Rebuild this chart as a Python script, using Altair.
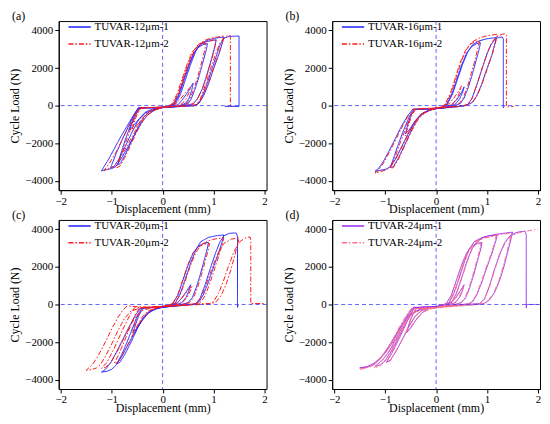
import altair as alt
import pandas as pd

FONT = "Liberation Serif"

# ---------------- data ----------------
A1 = [(0,-90),
(0.15,-60),(0.3,50),(0.4,350),(0.5,750),(0.6,1200),(0.57,800),(0.52,400),(0.45,120),(0.3,-40),(0.1,-90),
(-0.2,-110),(-0.45,-130),(-0.52,-450),(-0.6,-950),(-0.65,-1300),(-0.58,-1100),(-0.46,-700),(-0.34,-350),(-0.2,-180),(0,-100),
(0.1,-60),(0.2,40),(0.3,500),(0.4,1300),(0.5,2100),(0.6,2750),(0.7,3100),(0.8,3250),(0.88,3300),(0.86,3000),(0.8,2400),(0.72,1600),(0.64,900),(0.56,350),(0.5,100),(0.3,-40),(0,-90),
(-0.2,-110),(-0.46,-120),(-0.55,-500),(-0.65,-1200),(-0.75,-1950),(-0.83,-2650),(-0.88,-3150),(-0.83,-3080),(-0.74,-2650),(-0.62,-1950),(-0.5,-1250),(-0.38,-650),(-0.26,-330),(-0.14,-200),(0,-100),
(0.1,-60),(0.22,50),(0.32,550),(0.42,1350),(0.52,2150),(0.62,2800),(0.72,3200),(0.85,3400),(1.05,3500),(1.03,3200),(0.96,2500),(0.87,1650),(0.78,900),(0.68,350),(0.6,100),(0.4,-40),(0,-90),
(-0.2,-110),(-0.47,-120),(-0.57,-520),(-0.68,-1150),(-0.8,-1850),(-0.92,-2600),(-1.02,-3300),(-0.95,-3230),(-0.86,-2850),(-0.73,-2150),(-0.6,-1400),(-0.47,-750),(-0.33,-380),(-0.18,-220),(0,-100),
(0.1,-60),(0.25,80),(0.35,600),(0.45,1400),(0.55,2200),(0.65,2900),(0.75,3300),(0.9,3500),(1.05,3600),(1.2,3650),(1.18,3400),(1.1,2700),(1.0,1950),(0.9,1150),(0.8,500),(0.72,150),(0.65,30),(0.4,-40),(0.1,-90),
(-0.2,-110),(-0.48,-120),(-0.58,-550),(-0.7,-1100),(-0.82,-1650),(-0.94,-2250),(-1.06,-2850),(-1.15,-3250),(-1.2,-3480),(-1.12,-3420),(-1.0,-3350),(-0.92,-3250),(-0.82,-2850),(-0.68,-2200),(-0.54,-1500),(-0.4,-850),(-0.28,-450),(-0.16,-250),(0,-100),
(0.3,-40),(0.6,-20),(0.68,40),(0.75,300),(0.85,1000),(0.95,1800),(1.05,2600),(1.12,3200),(1.2,3580),(1.3,3680),(1.45,3700),(1.5,3700),(1.5,-40),(1.22,-40)]

A2 = [(0,-80),
(0.15,-40),(0.25,80),(0.35,350),(0.45,700),(0.55,1000),(0.52,700),(0.46,350),(0.38,100),(0.25,-30),(0,-80),
(-0.2,-100),(-0.42,-130),(-0.5,-450),(-0.56,-900),(-0.6,-1300),(-0.53,-1150),(-0.42,-750),(-0.3,-380),(-0.16,-180),(0,-90),
(0.1,-40),(0.18,80),(0.28,600),(0.38,1400),(0.48,2200),(0.58,2850),(0.68,3150),(0.78,3280),(0.85,3320),(0.83,3000),(0.77,2350),(0.69,1550),(0.61,850),(0.53,330),(0.46,80),(0.3,-30),(0,-80),
(-0.2,-100),(-0.44,-130),(-0.53,-520),(-0.63,-1250),(-0.73,-2000),(-0.82,-2700),(-0.9,-3300),(-0.84,-3230),(-0.74,-2750),(-0.61,-2000),(-0.48,-1250),(-0.35,-650),(-0.22,-350),(-0.1,-180),(0,-90),
(0.1,-40),(0.2,80),(0.3,650),(0.4,1450),(0.5,2250),(0.6,2900),(0.7,3250),(0.85,3430),(1.05,3520),(1.03,3200),(0.97,2500),(0.88,1700),(0.79,950),(0.69,380),(0.6,100),(0.4,-30),(0,-80),
(-0.2,-100),(-0.46,-130),(-0.56,-550),(-0.68,-1200),(-0.8,-1850),(-0.92,-2500),(-1.04,-3050),(-1.15,-3450),(-1.07,-3380),(-0.96,-3250),(-0.86,-2900),(-0.72,-2250),(-0.58,-1550),(-0.44,-850),(-0.3,-430),(-0.15,-230),(0,-90),
(0.1,-40),(0.22,100),(0.32,650),(0.42,1450),(0.52,2250),(0.62,2900),(0.72,3300),(0.85,3500),(1.0,3620),(1.2,3700),(1.18,3450),(1.1,2750),(1.0,2000),(0.9,1200),(0.8,550),(0.72,180),(0.64,40),(0.4,-30),(0,-80),
(0.3,-30),(0.6,-10),(0.66,60),(0.74,350),(0.84,1100),(0.94,1950),(1.04,2750),(1.12,3300),(1.2,3600),(1.27,3720),(1.32,3750),(1.33,3700),(1.33,-30),(1.28,-30)]

B1 = [(0,-160),
(0.15,-100),(0.3,30),(0.4,300),(0.5,700),(0.55,1000),(0.52,700),(0.46,350),(0.38,80),(0.2,-100),(0,-160),
(-0.2,-180),(-0.42,-200),(-0.5,-550),(-0.56,-1050),(-0.6,-1500),(-0.53,-1300),(-0.42,-850),(-0.3,-450),(-0.15,-250),(0,-160),
(0.1,-120),(0.2,50),(0.3,550),(0.4,1350),(0.5,2150),(0.6,2800),(0.7,3150),(0.8,3300),(0.87,3350),(0.85,3050),(0.79,2450),(0.71,1650),(0.63,950),(0.55,400),(0.48,120),(0.3,-80),(0,-160),
(-0.2,-180),(-0.44,-200),(-0.52,-550),(-0.62,-1200),(-0.72,-1900),(-0.81,-2600),(-0.9,-3300),(-0.84,-3250),(-0.74,-2800),(-0.61,-2050),(-0.48,-1300),(-0.36,-700),(-0.24,-380),(-0.12,-240),(0,-160),
(0.1,-120),(0.22,60),(0.32,600),(0.42,1400),(0.52,2200),(0.62,2850),(0.72,3250),(0.85,3450),(1.0,3560),(1.18,3620),(1.16,3350),(1.09,2650),(0.99,1900),(0.89,1100),(0.79,480),(0.7,150),(0.6,30),(0.4,-70),(0,-160),
(-0.2,-180),(-0.46,-200),(-0.56,-550),(-0.68,-1100),(-0.8,-1750),(-0.92,-2400),(-1.04,-3000),(-1.13,-3350),(-1.2,-3500),(-1.1,-3450),(-0.98,-3380),(-0.9,-3250),(-0.8,-2850),(-0.67,-2150),(-0.53,-1400),(-0.4,-780),(-0.27,-420),(-0.13,-250),(0,-160),
(0.3,-60),(0.55,-20),(0.62,60),(0.7,350),(0.8,1100),(0.9,1950),(1.0,2750),(1.08,3250),(1.16,3550),(1.24,3640),(1.3,3650),(1.32,3550),(1.32,-120),(1.34,-60)]

B2 = [(0,-130),
(0.15,-60),(0.25,90),(0.35,400),(0.45,800),(0.5,1050),(0.47,750),(0.41,380),(0.33,100),(0.18,-70),(0,-130),
(-0.2,-150),(-0.4,-180),(-0.48,-550),(-0.55,-1100),(-0.6,-1600),(-0.53,-1400),(-0.42,-900),(-0.3,-480),(-0.15,-240),(0,-130),
(0.1,-80),(0.18,80),(0.28,650),(0.38,1500),(0.48,2350),(0.58,2950),(0.68,3280),(0.78,3420),(0.85,3450),(0.83,3150),(0.77,2500),(0.69,1700),(0.61,950),(0.53,400),(0.46,120),(0.3,-60),(0,-140),
(-0.2,-160),(-0.42,-190),(-0.5,-550),(-0.6,-1250),(-0.7,-1950),(-0.8,-2700),(-0.9,-3350),(-0.84,-3300),(-0.74,-2850),(-0.61,-2100),(-0.48,-1350),(-0.35,-720),(-0.22,-390),(-0.1,-230),(0,-140),
(0.1,-80),(0.2,100),(0.3,700),(0.4,1550),(0.5,2400),(0.6,3000),(0.7,3380),(0.85,3600),(1.0,3720),(1.2,3800),(1.18,3500),(1.11,2800),(1.01,2000),(0.91,1200),(0.81,550),(0.72,180),(0.62,40),(0.4,-60),(0,-140),
(-0.2,-160),(-0.45,-190),(-0.55,-550),(-0.67,-1150),(-0.79,-1800),(-0.91,-2450),(-1.03,-3050),(-1.12,-3400),(-1.2,-3600),(-1.1,-3520),(-0.98,-3420),(-0.9,-3280),(-0.8,-2900),(-0.67,-2200),(-0.53,-1450),(-0.4,-800),(-0.27,-430),(-0.13,-240),(0,-140),
(0.3,-50),(0.56,0),(0.63,80),(0.71,400),(0.81,1200),(0.91,2050),(1.01,2850),(1.1,3400),(1.2,3700),(1.3,3800),(1.36,3820),(1.38,3750),(1.38,-60),(1.45,-60),(1.52,-50)]

C1 = [(0,-130),
(0.15,-60),(0.28,50),(0.38,350),(0.48,750),(0.55,1050),(0.52,750),(0.46,380),(0.38,100),(0.2,-80),(0,-130),
(-0.2,-150),(-0.38,-180),(-0.46,-550),(-0.53,-1050),(-0.58,-1500),(-0.51,-1300),(-0.4,-850),(-0.28,-450),(-0.14,-230),(0,-130),
(0.1,-80),(0.2,50),(0.3,500),(0.4,1300),(0.5,2100),(0.6,2750),(0.7,3100),(0.8,3250),(0.9,3300),(0.88,3000),(0.82,2400),(0.74,1600),(0.66,900),(0.58,350),(0.5,100),(0.3,-60),(0,-140),
(-0.2,-160),(-0.4,-190),(-0.49,-550),(-0.59,-1250),(-0.69,-1950),(-0.8,-2650),(-0.9,-3150),(-0.84,-3080),(-0.74,-2650),(-0.61,-1950),(-0.49,-1250),(-0.37,-650),(-0.25,-340),(-0.12,-220),(0,-140),
(0.1,-80),(0.25,80),(0.35,600),(0.45,1400),(0.55,2200),(0.65,2900),(0.75,3350),(0.9,3570),(1.05,3660),(1.2,3700),(1.18,3450),(1.1,2750),(1.0,2000),(0.9,1200),(0.8,520),(0.72,160),(0.64,30),(0.4,-50),(0,-150),
(-0.2,-170),(-0.43,-200),(-0.53,-550),(-0.65,-1150),(-0.77,-1800),(-0.9,-2500),(-1.02,-3100),(-1.12,-3450),(-1.2,-3600),(-1.1,-3560),(-1.0,-3450),(-0.92,-3250),(-0.82,-2850),(-0.68,-2150),(-0.54,-1450),(-0.4,-800),(-0.27,-430),(-0.14,-250),(0,-150),
(0.3,-50),(0.58,-10),(0.66,60),(0.74,350),(0.84,1100),(0.94,1950),(1.04,2750),(1.12,3300),(1.2,3650),(1.3,3780),(1.4,3810),(1.45,3790),(1.47,3600),(1.47,-150),(1.48,0)]

C2 = [(0,-100),
(0.15,-40),(0.28,80),(0.38,350),(0.48,700),(0.58,1000),(0.54,700),(0.47,350),(0.38,90),(0.2,-60),(0,-100),
(-0.2,-130),(-0.4,-160),(-0.48,-550),(-0.55,-1050),(-0.6,-1500),(-0.53,-1300),(-0.42,-850),(-0.3,-450),(-0.16,-230),(0,-110),
(0.1,-50),(0.2,70),(0.3,550),(0.4,1350),(0.5,2150),(0.6,2750),(0.7,3050),(0.8,3200),(0.92,3250),(0.9,2950),(0.84,2350),(0.76,1550),(0.68,850),(0.6,330),(0.52,90),(0.3,-50),(0,-110),
(-0.2,-140),(-0.45,-170),(-0.54,-550),(-0.64,-1200),(-0.75,-1950),(-0.86,-2650),(-0.95,-3150),(-0.88,-3080),(-0.78,-2650),(-0.65,-1950),(-0.52,-1250),(-0.4,-650),(-0.28,-340),(-0.14,-200),(0,-110),
(0.1,-50),(0.25,80),(0.35,550),(0.45,1300),(0.55,2100),(0.65,2750),(0.75,3150),(0.9,3400),(1.05,3500),(1.2,3550),(1.18,3300),(1.11,2650),(1.02,1900),(0.93,1150),(0.84,500),(0.76,150),(0.68,30),(0.4,-40),(0,-110),
(-0.2,-140),(-0.55,-170),(-0.64,-550),(-0.75,-1150),(-0.87,-1850),(-0.99,-2550),(-1.1,-3100),(-1.2,-3400),(-1.12,-3350),(-1.02,-3100),(-0.9,-2550),(-0.77,-1850),(-0.64,-1150),(-0.52,-600),(-0.38,-300),(-0.2,-170),(0,-110),
(0.3,-20),(0.6,20),(0.7,150),(0.8,650),(0.9,1400),(1.0,2150),(1.1,2800),(1.2,3250),(1.35,3480),(1.5,3550),(1.48,3300),(1.42,2650),(1.34,1850),(1.25,1100),(1.15,480),(1.05,140),(0.95,30),(0.6,-20),(0,-120),
(-0.3,-150),(-0.7,-80),(-0.78,-300),(-0.88,-700),(-0.98,-1200),(-1.08,-1750),(-1.18,-2300),(-1.28,-2800),(-1.38,-3200),(-1.5,-3500),(-1.4,-3470),(-1.3,-3380),(-1.22,-3200),(-1.12,-2750),(-1.0,-2100),(-0.88,-1400),(-0.75,-750),(-0.62,-350),(-0.45,-200),(0,-120),
(0.4,-10),(0.7,30),(0.92,50),(1.0,150),(1.1,600),(1.2,1300),(1.3,2100),(1.4,2800),(1.5,3300),(1.6,3520),(1.68,3580),(1.72,3580),(1.73,3450),(1.73,50),(1.8,50),(2.0,50)]

D1 = [(0,-110),
(0.15,-50),(0.28,60),(0.38,350),(0.48,750),(0.55,1050),(0.52,750),(0.46,380),(0.38,100),(0.2,-60),(0,-120),
(-0.2,-130),(-0.38,-170),(-0.46,-550),(-0.53,-1050),(-0.58,-1500),(-0.51,-1300),(-0.4,-850),(-0.28,-450),(-0.14,-220),(0,-120),
(0.1,-60),(0.2,50),(0.3,500),(0.4,1300),(0.5,2100),(0.6,2750),(0.7,3100),(0.8,3250),(0.9,3300),(0.88,3000),(0.82,2400),(0.74,1600),(0.66,900),(0.58,350),(0.5,100),(0.3,-50),(0,-120),
(-0.2,-140),(-0.42,-170),(-0.51,-550),(-0.62,-1200),(-0.74,-1900),(-0.86,-2550),(-0.97,-3050),(-0.9,-2980),(-0.8,-2550),(-0.67,-1900),(-0.54,-1200),(-0.41,-620),(-0.28,-320),(-0.14,-200),(0,-120),
(0.1,-60),(0.25,80),(0.35,600),(0.45,1400),(0.55,2250),(0.65,2950),(0.75,3350),(0.9,3560),(1.05,3660),(1.2,3700),(1.18,3450),(1.1,2750),(1.0,2000),(0.9,1200),(0.8,520),(0.72,160),(0.64,30),(0.4,-40),(0,-130),
(-0.2,-150),(-0.44,-170),(-0.54,-550),(-0.66,-1150),(-0.79,-1850),(-0.92,-2500),(-1.05,-2950),(-1.2,-3300),(-1.1,-3230),(-1.0,-3000),(-0.88,-2500),(-0.75,-1800),(-0.62,-1100),(-0.49,-550),(-0.34,-280),(-0.18,-190),(0,-130),
(0.1,-50),(0.3,100),(0.4,600),(0.5,1400),(0.6,2250),(0.7,2950),(0.8,3350),(0.95,3600),(1.15,3720),(1.3,3780),(1.5,3850),(1.48,3600),(1.42,2950),(1.34,2100),(1.25,1300),(1.15,650),(1.05,250),(0.95,60),(0.85,10),(0.5,-40),(0,-130),
(-0.2,-150),(-0.45,-150),(-0.55,-500),(-0.7,-1200),(-0.85,-2000),(-1.0,-2600),(-1.2,-3100),(-1.35,-3300),(-1.5,-3380),(-1.4,-3350),(-1.3,-3300),(-1.2,-3150),(-1.1,-2900),(-0.9,-2100),(-0.7,-1200),(-0.5,-500),(-0.3,-250),(0,-130),
(0.4,-10),(0.7,20),(0.85,40),(0.95,300),(1.05,1000),(1.15,1900),(1.25,2700),(1.35,3300),(1.45,3650),(1.55,3800),(1.65,3880),(1.75,3900),(1.77,3700),(1.77,-180),(1.78,0),(2.0,0)]

D2 = [(0,-160),
(0.15,-90),(0.28,30),(0.38,320),(0.48,700),(0.53,950),(0.5,680),(0.44,330),(0.36,80),(0.2,-100),(0,-170),
(-0.2,-200),(-0.4,-230),(-0.47,-550),(-0.53,-1000),(-0.58,-1450),(-0.51,-1250),(-0.4,-820),(-0.28,-450),(-0.14,-260),(0,-170),
(0.1,-100),(0.2,20),(0.3,450),(0.4,1250),(0.5,2050),(0.6,2700),(0.7,3050),(0.8,3200),(0.88,3250),(0.86,2950),(0.8,2350),(0.72,1550),(0.64,850),(0.56,320),(0.48,80),(0.3,-90),(0,-170),
(-0.2,-200),(-0.44,-230),(-0.53,-580),(-0.64,-1250),(-0.76,-1950),(-0.88,-2600),(-0.98,-3100),(-0.91,-3030),(-0.81,-2600),(-0.68,-1950),(-0.55,-1250),(-0.42,-650),(-0.29,-350),(-0.15,-240),(0,-170),
(0.1,-100),(0.25,40),(0.35,550),(0.45,1350),(0.55,2200),(0.65,2900),(0.75,3300),(0.9,3500),(1.05,3600),(1.18,3650),(1.16,3400),(1.08,2700),(0.98,1950),(0.88,1150),(0.78,480),(0.7,140),(0.62,20),(0.4,-80),(0,-170),
(-0.2,-200),(-0.46,-230),(-0.56,-580),(-0.68,-1200),(-0.81,-1900),(-0.94,-2550),(-1.08,-3050),(-1.22,-3380),(-1.12,-3300),(-1.02,-3050),(-0.9,-2550),(-0.77,-1850),(-0.64,-1150),(-0.51,-600),(-0.36,-320),(-0.2,-230),(0,-170),
(0.1,-90),(0.3,80),(0.4,570),(0.5,1350),(0.6,2200),(0.7,2900),(0.8,3300),(0.95,3550),(1.15,3680),(1.3,3740),(1.48,3800),(1.46,3550),(1.4,2900),(1.32,2050),(1.23,1250),(1.13,600),(1.03,220),(0.93,50),(0.83,0),(0.5,-70),(0,-170),
(-0.2,-200),(-0.48,-200),(-0.58,-550),(-0.73,-1250),(-0.88,-2050),(-1.03,-2650),(-1.22,-3150),(-1.37,-3370),(-1.5,-3450),(-1.4,-3400),(-1.3,-3330),(-1.2,-3180),(-1.1,-2920),(-0.9,-2150),(-0.7,-1250),(-0.5,-550),(-0.3,-290),(0,-170),
(0.4,-30),(0.7,0),(0.85,30),(0.95,270),(1.05,950),(1.15,1850),(1.25,2650),(1.35,3250),(1.45,3600),(1.6,3800),(1.8,3920),(2.0,4000)]

PANELS = [
    ("(a)", A1, A2, "TUVAR-12μm-1", "TUVAR-12μm-2", "#1f1fff", "#ff1a1a"),
    ("(b)", B1, B2, "TUVAR-16μm-1", "TUVAR-16μm-2", "#1f1fff", "#ff1a1a"),
    ("(c)", C1, C2, "TUVAR-20μm-1", "TUVAR-20μm-2", "#1f1fff", "#ff1a1a"),
    ("(d)", D1, D2, "TUVAR-24μm-1", "TUVAR-24μm-2", "#9a2cf0", "#ff6f87"),
]
X_TICKS = [-2, -1.5, -1, -0.5, 0, 0.5, 1, 1.5, 2]
Y_TICKS = [-4000, -3000, -2000, -1000, 0, 1000, 2000, 3000, 4000]

W, H = 209, 170


def to_df(pts, name):
    return pd.DataFrame({"x": [p[0] for p in pts], "y": [p[1] for p in pts],
                         "s": name, "o": list(range(len(pts)))})


def panel(label, s1, s2, n1, n2, c1, c2):
    df = pd.concat([to_df(s1, n1), to_df(s2, n2)], ignore_index=True)
    xs = alt.Scale(domain=[-2.04, 2.04], nice=False, zero=False)
    ys = alt.Scale(domain=[-4500, 4500], nice=False, zero=False)
    xaxis = alt.Axis(values=X_TICKS, format="d", title="Displacement (mm)",
                     labelExpr="datum.value % 1 != 0 ? '' : datum.label",
                     tickSize={"condition": {"test": "datum.value % 1 != 0", "value": 2}, "value": 4},
                     labelPadding=1, titlePadding=-2)
    yaxis = alt.Axis(values=Y_TICKS, format="d", title="Cycle Load (N)",
                     labelExpr="datum.value % 2000 != 0 ? '' : datum.label",
                     tickSize={"condition": {"test": "datum.value % 2000 != 0", "value": 2}, "value": 4},
                     labelPadding=2, titlePadding=3)
    leg = alt.Legend(orient="none", legendX=9, legendY=-6, title=None,
                     symbolType="M-1,0L1,0", symbolSize=500, symbolStrokeWidth=1.5,
                     labelFont=FONT, labelFontSize=11, labelColor="black",
                     padding=0, rowPadding=-5, labelOffset=3)
    lines = alt.Chart(df).mark_line(strokeWidth=1, clip=True).encode(
        x=alt.X("x:Q", scale=xs, axis=xaxis),
        y=alt.Y("y:Q", scale=ys, axis=yaxis),
        color=alt.Color("s:N", scale=alt.Scale(domain=[n1, n2], range=[c1, c2]), legend=leg),
        strokeDash=alt.StrokeDash("s:N", scale=alt.Scale(domain=[n1, n2], range=[[1, 0], [5, 2, 1.5, 2]]), legend=leg),
        order="o:Q",
    )
    zero = pd.DataFrame({"v": [0]})
    zx = alt.Chart(zero).mark_rule(color="#3b3bff", strokeDash=[4, 3], strokeWidth=0.8).encode(
        x=alt.X("v:Q", scale=xs))
    zy = alt.Chart(zero).mark_rule(color="#3b3bff", strokeDash=[4, 3], strokeWidth=0.8).encode(
        y=alt.Y("v:Q", scale=ys))
    lab = alt.Chart(pd.DataFrame({"t": [label]})).mark_text(
        align="left", baseline="top", font=FONT, fontSize=12, color="black").encode(
        x=alt.value(-47), y=alt.value(-10), text="t:N")
    return alt.layer(lines, zx, zy, lab).properties(width=W, height=H)


charts = [panel(*p) for p in PANELS]
chart = alt.concat(*charts, columns=2, spacing={"row": 30, "column": 66}, bounds="flush").resolve_scale(
    x="independent", y="independent", color="independent", strokeDash="independent"
).resolve_legend(color="independent", strokeDash="independent").properties(padding=0).configure_view(
    stroke="black", strokeWidth=1
).configure_axis(
    grid=False, domainColor="black", tickColor="black", labelColor="black", titleColor="black",
    labelFont=FONT, titleFont=FONT, labelFontSize=11, titleFontSize=12, titleFontWeight="normal",
)

chart.save("out.html", embed_options={"renderer": "svg", "actions": False})
